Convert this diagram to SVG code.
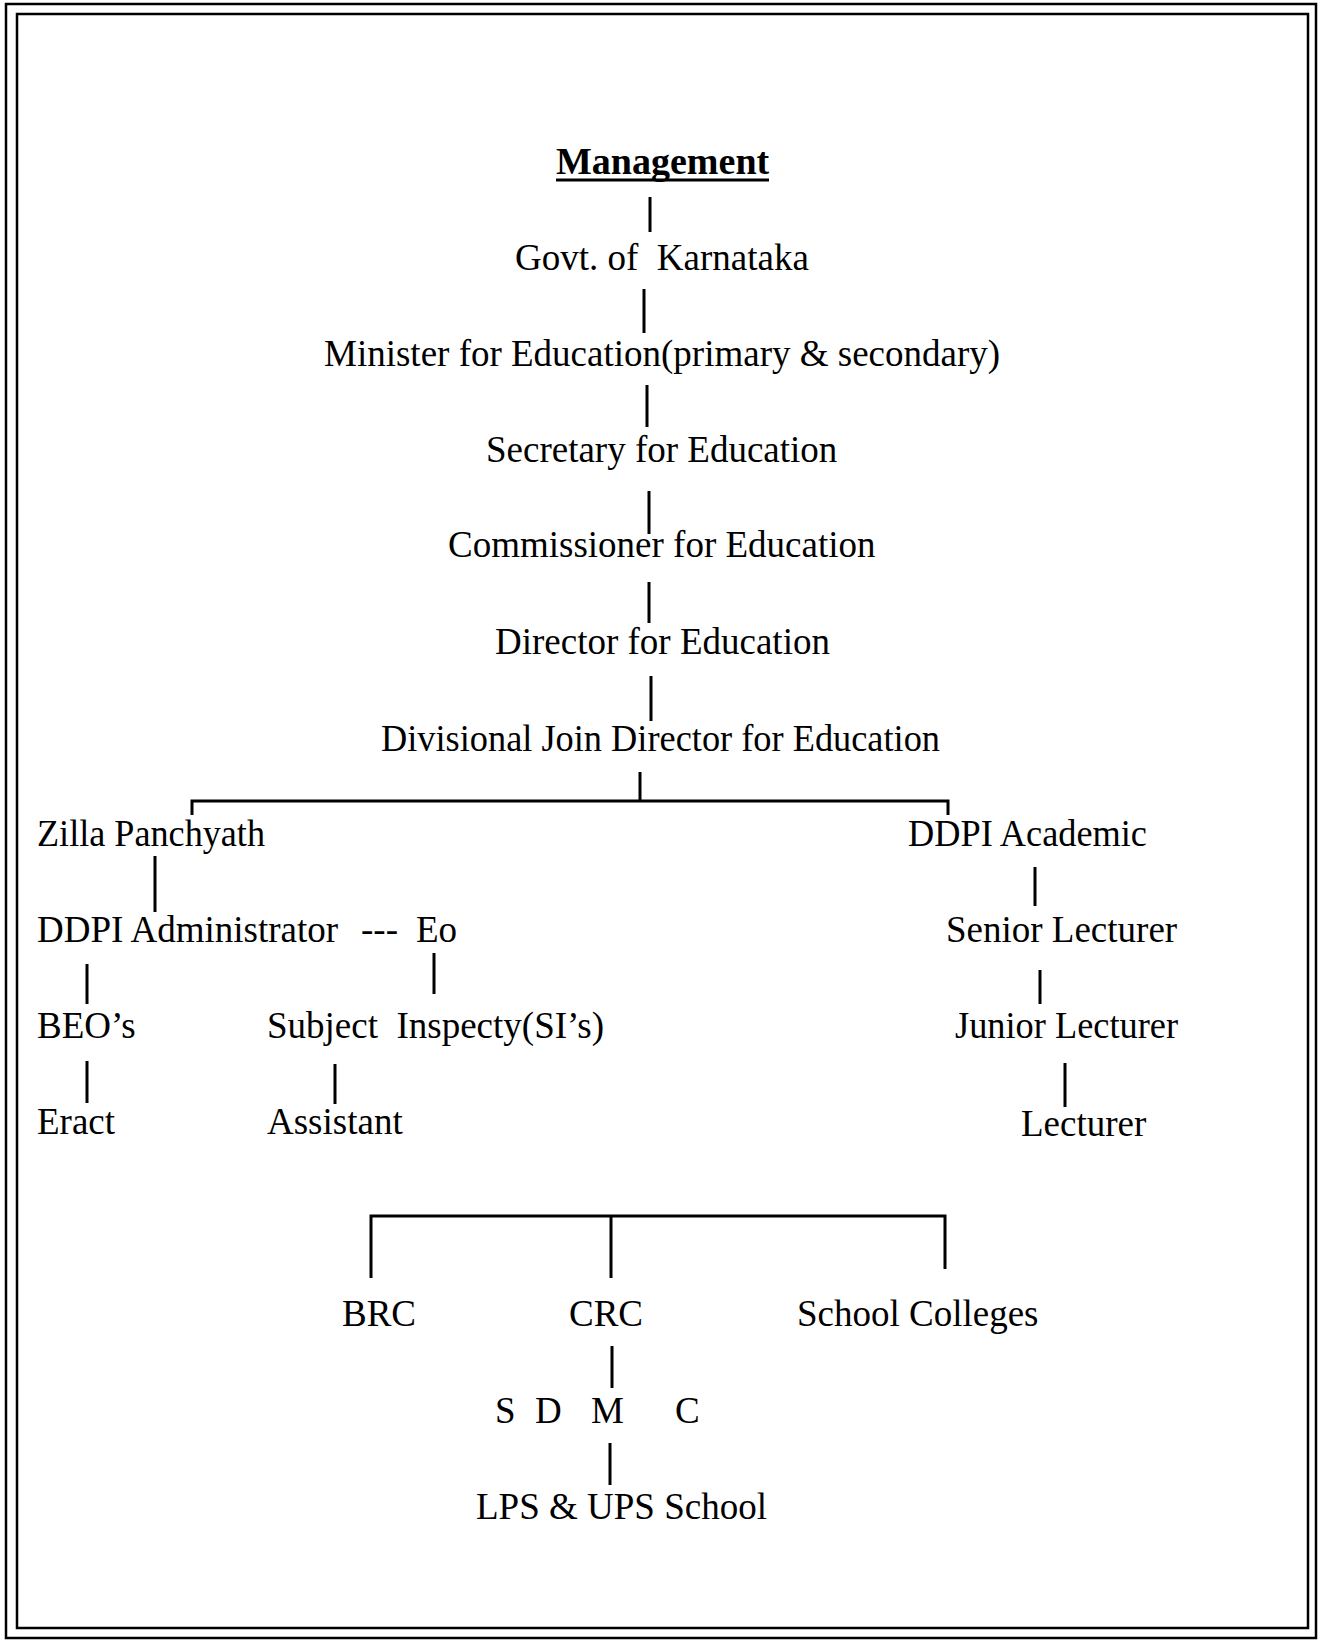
<svg xmlns="http://www.w3.org/2000/svg" width="1318" height="1641" viewBox="0 0 1318 1641">
<style>
text{font-family:"Liberation Serif","Times New Roman",serif;font-size:37px;fill:#000}
.title{font-weight:bold;font-size:38px}
.ln{stroke:#000;stroke-width:3;fill:none}
.bd{stroke:#000;stroke-width:2.5;fill:none}
</style>
<rect width="1318" height="1641" fill="#fff"/>
<g id="border">
<rect class="bd" x="6" y="4" width="1310" height="1634"/>
<rect class="bd" x="17" y="14" width="1291" height="1614"/>
</g>
<g id="connectors">
<line class="ln" x1="650" y1="197" x2="650" y2="232"/>
<line class="ln" x1="644" y1="289" x2="644" y2="333"/>
<line class="ln" x1="647" y1="385" x2="647" y2="427"/>
<line class="ln" x1="649" y1="491" x2="649" y2="534"/>
<line class="ln" x1="649" y1="582" x2="649" y2="623"/>
<line class="ln" x1="651" y1="676" x2="651" y2="721"/>
<line class="ln" x1="640" y1="772" x2="640" y2="801"/>
<polyline class="ln" points="192,815 192,801 948,801 948,815"/>
<line class="ln" x1="155" y1="856" x2="155" y2="912"/>
<line class="ln" x1="1035" y1="867" x2="1035" y2="906"/>
<line class="ln" x1="87" y1="964" x2="87" y2="1004"/>
<line class="ln" x1="434" y1="953" x2="434" y2="994"/>
<line class="ln" x1="1040" y1="970" x2="1040" y2="1004"/>
<line class="ln" x1="87" y1="1061" x2="87" y2="1103"/>
<line class="ln" x1="335" y1="1064" x2="335" y2="1104"/>
<line class="ln" x1="1065" y1="1063" x2="1065" y2="1107"/>
<polyline class="ln" points="371,1278 371,1216 945,1216 945,1269"/>
<line class="ln" x1="611" y1="1216" x2="611" y2="1278"/>
<line class="ln" x1="612" y1="1346" x2="612" y2="1388"/>
<line class="ln" x1="610" y1="1443" x2="610" y2="1485"/>
</g>
<g id="n-management">
<text class="title" x="556" y="174">Management</text>
<line x1="556" y1="180" x2="769" y2="180" stroke="#000" stroke-width="3"/>
</g>
<g id="n-govt"><text x="515" y="270" xml:space="preserve">Govt. of  Karnataka</text></g>
<g id="n-minister"><text x="324" y="366">Minister for Education(primary &amp; secondary)</text></g>
<g id="n-secretary"><text x="486" y="462">Secretary for Education</text></g>
<g id="n-commissioner"><text x="448" y="557">Commissioner for Education</text></g>
<g id="n-director"><text x="495" y="654">Director for Education</text></g>
<g id="n-divisional"><text x="381" y="751" textLength="559" lengthAdjust="spacingAndGlyphs">Divisional Join Director for Education</text></g>
<g id="n-zilla"><text x="37" y="846" textLength="228" lengthAdjust="spacingAndGlyphs">Zilla Panchyath</text></g>
<g id="n-ddpi-academic"><text x="908" y="846" textLength="239" lengthAdjust="spacingAndGlyphs">DDPI Academic</text></g>
<g id="n-ddpi-admin"><text x="37" y="942">DDPI Administrator</text><text x="361" y="942">---</text></g>
<g id="n-eo"><text x="416" y="942">Eo</text></g>
<g id="n-senior"><text x="946" y="942">Senior Lecturer</text></g>
<g id="n-beo"><text x="37" y="1038">BEO’s</text></g>
<g id="n-subject"><text x="267" y="1038" xml:space="preserve">Subject  Inspecty(SI’s)</text></g>
<g id="n-junior"><text x="955" y="1038" textLength="223" lengthAdjust="spacingAndGlyphs">Junior Lecturer</text></g>
<g id="n-eract"><text x="37" y="1134">Eract</text></g>
<g id="n-assistant"><text x="267" y="1134">Assistant</text></g>
<g id="n-lecturer"><text x="1021" y="1136">Lecturer</text></g>
<g id="n-brc"><text x="342" y="1326">BRC</text></g>
<g id="n-crc"><text x="569" y="1326">CRC</text></g>
<g id="n-school-colleges"><text x="797" y="1326">School Colleges</text></g>
<g id="n-sdmc"><text y="1423"><tspan x="495">S</tspan><tspan x="535">D</tspan><tspan x="591">M</tspan><tspan x="675">C</tspan></text></g>
<g id="n-lps-ups"><text x="476" y="1519">LPS &amp; UPS School</text></g>
</svg>
